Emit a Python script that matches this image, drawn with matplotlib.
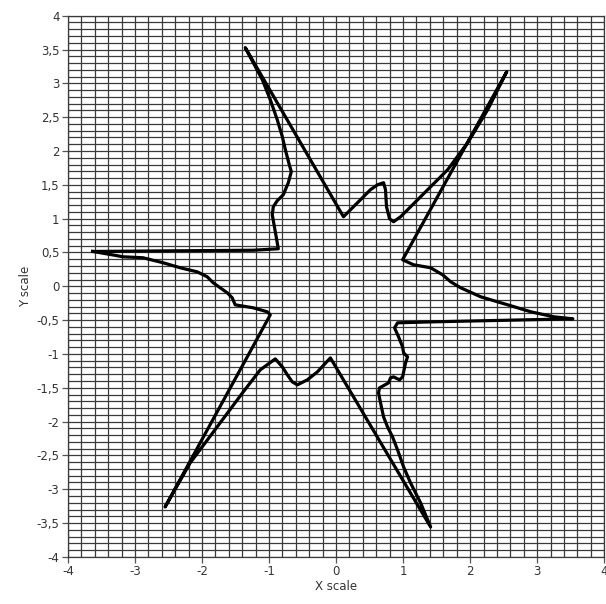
import numpy as np
import matplotlib.pyplot as plt
from matplotlib.ticker import MultipleLocator, FuncFormatter

# traced star outline (closed loop), starting at the left spike
star_x = [-3.631, -1.235, -0.861, -0.906, -0.951, -0.936, -0.877, -0.786, -0.712, -0.667,
          -0.697, -0.756, -0.801, -0.877, -0.981, -1.100, -1.235, -1.354,
          0.111, 0.320, 0.514, 0.619, 0.709, 0.738, 0.753, 0.798, 0.858, 0.963,
          1.262, 1.665, 1.964, 2.263, 2.547,
          0.993, 1.157, 1.411, 1.590, 1.710, 1.859, 2.158, 2.561, 2.906, 3.249, 3.533,
          1.456, 0.918, 0.873, 0.933, 0.993, 1.008, 1.067, 1.037, 0.993, 0.948, 0.858,
          0.813, 0.783, 0.649, 0.634, 0.664, 0.709, 0.768, 0.843, 0.918, 1.008, 1.112,
          1.262, 1.411,
          -0.084, -0.278, -0.428, -0.577, -0.652, -0.726, -0.801, -0.906, -1.130, -1.384,
          -1.773, -2.176, -2.550,
          -0.981, -1.025, -1.235, -1.504, -1.549, -1.623, -1.728, -1.832, -1.922, -2.071,
          -2.325, -2.580, -2.879, -3.178, -3.342, -3.596, -3.631]
star_y = [0.515, 0.533, 0.555, 0.806, 1.058, 1.176, 1.265, 1.354, 1.531, 1.694,
          1.797, 2.019, 2.212, 2.463, 2.759, 3.055, 3.306, 3.528,
          1.028, 1.235, 1.428, 1.501, 1.531, 1.428, 1.176, 0.999, 0.954, 1.028,
          1.324, 1.723, 2.123, 2.611, 3.173,
          0.392, 0.318, 0.274, 0.170, 0.067, -0.022, -0.155, -0.274, -0.377, -0.451, -0.481,
          -0.525, -0.540, -0.614, -0.747, -0.895, -0.984, -1.043, -1.132, -1.339, -1.383, -1.339,
          -1.354, -1.428, -1.501, -1.575, -1.723, -1.930, -2.078, -2.226, -2.419, -2.670, -2.907,
          -3.203, -3.558,
          -1.058, -1.265, -1.383, -1.457, -1.413, -1.309, -1.191, -1.073, -1.235, -1.561,
          -2.078, -2.611, -3.262,
          -0.422, -0.377, -0.318, -0.274, -0.170, -0.096, -0.022, 0.052, 0.141, 0.214,
          0.274, 0.348, 0.422, 0.436, 0.466, 0.510, 0.515]

fig = plt.figure(figsize=(6.06, 6.04), dpi=100)
ax = fig.add_axes([0.112, 0.078, 0.885, 0.896])

ax.set_xlim(-4, 4)
ax.set_ylim(-4, 4)

grid_col = "#3a3a3a"
ax.xaxis.set_major_locator(MultipleLocator(1))
ax.xaxis.set_minor_locator(MultipleLocator(0.2))
ax.yaxis.set_major_locator(MultipleLocator(0.5))
ax.yaxis.set_minor_locator(MultipleLocator(0.1))
ax.grid(True, which="both", color=grid_col, linewidth=0.9)
ax.set_axisbelow(True)

comma = FuncFormatter(lambda v, pos: ("%g" % v).replace(".", ","))
ax.xaxis.set_major_formatter(comma)
ax.yaxis.set_major_formatter(comma)
ax.tick_params(which="major", length=4, width=0.9, color="#555555",
               labelsize=8.5, labelcolor="#333333", pad=2)
ax.tick_params(which="minor", length=0)

for s in ax.spines.values():
    s.set_color(grid_col)
    s.set_linewidth(0.9)

ax.plot(star_x, star_y, color="black", linewidth=2.3, solid_joinstyle="round")

ax.set_xlabel("X scale", fontsize=8.5, color="#333333", labelpad=1)
ax.set_ylabel("Y scale", fontsize=8.5, color="#333333", labelpad=3)

fig.savefig("out.png", dpi=100)
